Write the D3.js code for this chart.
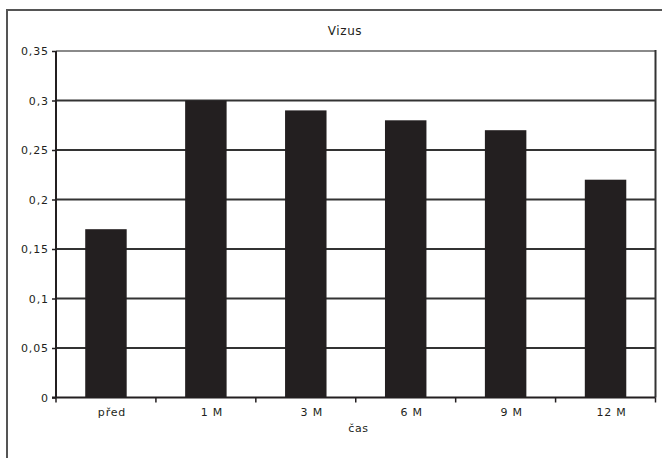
<!DOCTYPE html>
<html>
<head>
<meta charset="utf-8">
<script src="https://cdn.jsdelivr.net/npm/d3@7"></script>
<style>
  html, body { margin: 0; padding: 0; background: #fff; }
  svg { display: block; }
  text { font-family: "DejaVu Sans", sans-serif; fill: #231f20; }
</style>
</head>
<body>
<svg id="chart" width="662" height="458"></svg>
<script>
const categories = ["před", "1 M", "3 M", "6 M", "9 M", "12 M"];
const values = [0.17, 0.30, 0.29, 0.28, 0.27, 0.22];
const yTicks = [0, 0.05, 0.1, 0.15, 0.2, 0.25, 0.3, 0.35];
const yTickLabels = ["0", "0,05", "0,1", "0,15", "0,2", "0,25", "0,3", "0,35"];
const title = "Vizus";
const xTitle = "čas";

const svg = d3.select("#chart");
const m = { left: 56, right: 655.5, top: 51, bottom: 397.5 };

// outer frame (left & top visible)
svg.append("path")
  .attr("d", "M7,458 L7,10 L662,10")
  .attr("fill", "none").attr("stroke", "#555").attr("stroke-width", 2);

const x = d3.scaleBand().domain(categories).range([m.left, m.right])
  .paddingInner(0.585).paddingOuter(0.2925);
const xb = d3.scaleBand().domain(categories).range([m.left, m.right]);
const y = d3.scaleLinear().domain([0, 0.35]).range([m.bottom, m.top]);

// gridlines
svg.append("g").selectAll("line").data(yTicks.filter(d => d > 0)).join("line")
  .attr("x1", m.left).attr("x2", m.right)
  .attr("y1", d => y(d)).attr("y2", d => y(d))
  .attr("stroke", d => d === 0.35 ? "#8a8a8a" : "#333")
  .attr("stroke-width", 2);

// right border of plot
svg.append("line").attr("x1", m.right).attr("x2", m.right)
  .attr("y1", m.top - 1).attr("y2", m.bottom)
  .attr("stroke", "#333").attr("stroke-width", 2);

// bars
svg.append("g").selectAll("rect").data(values).join("rect")
  .attr("x", (d, i) => x(categories[i]))
  .attr("width", x.bandwidth())
  .attr("y", d => y(d))
  .attr("height", d => y(0) - y(d))
  .attr("fill", "#231f20");

// y axis
const yAxis = d3.axisLeft(y).tickValues(yTicks)
  .tickFormat((d, i) => yTickLabels[i]).tickSize(4).tickPadding(3);
const gy = svg.append("g").attr("transform", `translate(${m.left},0)`).call(yAxis);
gy.select(".domain").attr("stroke", "#231f20").attr("stroke-width", 2)
  .attr("d", `M0,${m.top}V${m.bottom}`);
gy.selectAll(".tick line").attr("stroke", "#231f20").attr("stroke-width", 1.5);
gy.selectAll(".tick text").style("font-size", "11px").style("letter-spacing", "0.9px")
  .attr("fill", "#231f20");

// x axis
const boundaries = categories.map(c => xb(c)).concat([m.right]);
svg.append("line").attr("x1", m.left - 4).attr("x2", m.right)
  .attr("y1", m.bottom).attr("y2", m.bottom)
  .attr("stroke", "#231f20").attr("stroke-width", 2);
svg.append("g").selectAll("line").data(boundaries).join("line")
  .attr("x1", d => d).attr("x2", d => d)
  .attr("y1", m.bottom).attr("y2", m.bottom + 5)
  .attr("stroke", "#231f20").attr("stroke-width", 1.5);
svg.append("g").selectAll("text").data(categories).join("text")
  .attr("x", d => xb(d) + xb.bandwidth() / 2 + 6)
  .attr("y", 416)
  .attr("text-anchor", "middle")
  .style("font-size", "11px").style("letter-spacing", "0.8px")
  .text(d => d);

// titles
svg.append("text").attr("x", 345).attr("y", 35).attr("text-anchor", "middle")
  .style("font-size", "12px").style("letter-spacing", "0.6px").text(title);
svg.append("text").attr("x", 358.5).attr("y", 432).attr("text-anchor", "middle")
  .style("font-size", "11px").style("letter-spacing", "0.6px").text(xTitle);
</script>
</body>
</html>
